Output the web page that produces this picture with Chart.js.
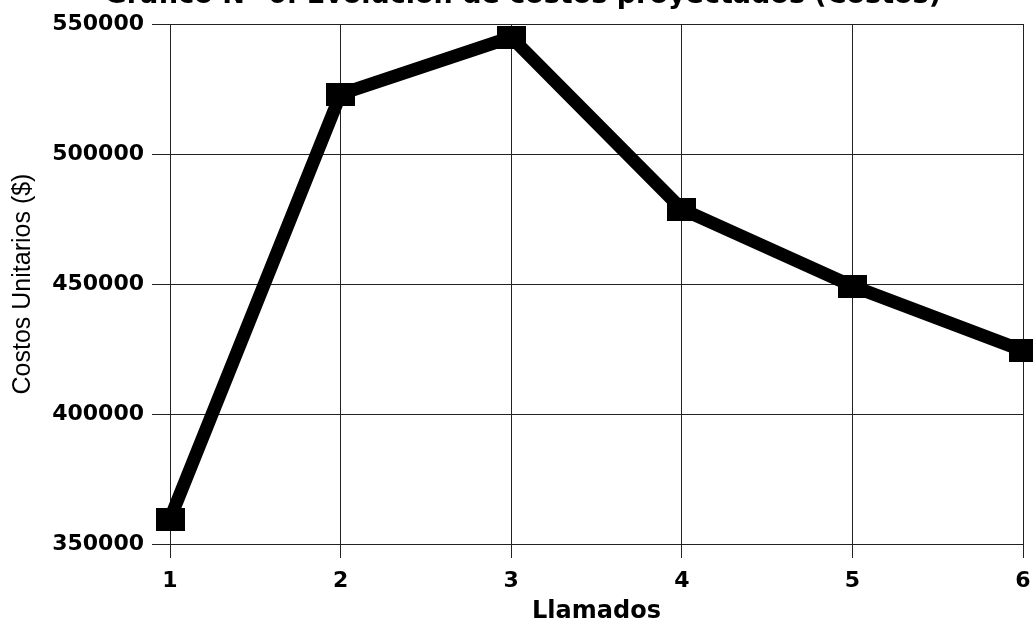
<!DOCTYPE html>
<html>
<head>
<meta charset="utf-8">
<script src="https://cdn.jsdelivr.net/npm/chart.js@4/dist/chart.umd.min.js"></script>
<style>
  html, body { margin: 0; padding: 0; background: #ffffff; }
  canvas { display: block; }
</style>
</head>
<body>
<canvas id="c" width="1033" height="624"></canvas>
<script>
// Costos unitarios por llamado
const llamados = ['1', '2', '3', '4', '5', '6'];
const costosUnitarios = [359600, 523000, 544900, 478800, 449200, 424400];
const yTicks = [350000, 400000, 450000, 500000, 550000];

const chartTitle = 'Gráfico N° 6: Evolución de costos proyectados (Costos)';
const xTitle = 'Llamados';
const yTitle = 'Costos Unitarios ($)';

// Rectangular black marker for each point
function makeMarker(w, h) {
  const m = document.createElement('canvas');
  m.width = w; m.height = h;
  const g = m.getContext('2d');
  g.fillStyle = '#000000';
  g.fillRect(0, 0, w, h);
  return m;
}
const marker = makeMarker(29, 23);

// Title drawn along the top edge of the canvas
const topTitle = {
  id: 'topTitle',
  afterDraw(chart) {
    const ctx = chart.ctx;
    ctx.save();
    ctx.font = 'bold 27px "DejaVu Sans"';
    ctx.fillStyle = '#000000';
    ctx.textAlign = 'right';
    ctx.textBaseline = 'alphabetic';
    ctx.fillText(chartTitle, 941, 3);
    ctx.restore();
  }
};

const gridColor = '#222222';

new Chart(document.getElementById('c'), {
  type: 'line',
  data: {
    labels: llamados,
    datasets: [{
      data: costosUnitarios,
      borderColor: '#000000',
      backgroundColor: '#000000',
      borderWidth: 13,
      borderJoinStyle: 'round',
      tension: 0,
      fill: false,
      pointStyle: marker,
      clip: false
    }]
  },
  options: {
    responsive: false,
    devicePixelRatio: 1,
    animation: false,
    layout: { autoPadding: false, padding: { top: 24, right: 10, left: 0, bottom: 0 } },
    plugins: {
      legend: { display: false },
      title: { display: false },
      tooltip: { enabled: false }
    },
    scales: {
      x: {
        type: 'category',
        offset: false,
        afterFit(scale) {
          scale.height = 80;
          scale.paddingLeft = 0;
          scale.paddingRight = 0;
        },
        grid: {
          color: gridColor,
          lineWidth: 1,
          drawTicks: true,
          tickLength: 14,
          tickColor: gridColor
        },
        border: { display: true, color: gridColor, width: 1 },
        ticks: {
          color: '#000000',
          font: { family: 'DejaVu Sans', size: 22, weight: 'bold' },
          padding: 10,
          maxRotation: 0,
          autoSkip: false
        },
        title: {
          display: true,
          text: xTitle,
          color: '#000000',
          font: { family: 'DejaVu Sans', size: 24, weight: 'bold' },
          padding: { top: 0, bottom: -2 }
        }
      },
      y: {
        type: 'linear',
        min: yTicks[0],
        max: yTicks[yTicks.length - 1],
        afterFit(scale) {
          scale.width = 170;
          scale.paddingTop = 0;
          scale.paddingBottom = 0;
        },
        afterBuildTicks(scale) {
          scale.ticks = yTicks.map(v => ({ value: v }));
        },
        grid: {
          color: gridColor,
          lineWidth: 1,
          drawTicks: true,
          tickLength: 18,
          tickColor: gridColor
        },
        border: { display: true, color: gridColor, width: 1 },
        ticks: {
          color: '#000000',
          font: { family: 'DejaVu Sans', size: 22, weight: 'bold' },
          padding: 8,
          callback: v => String(v)
        },
        title: {
          display: true,
          text: yTitle,
          color: '#000000',
          font: { family: 'Liberation Sans', size: 25, weight: 'normal' },
          padding: { top: 8, bottom: 0 }
        }
      }
    }
  },
  plugins: [topTitle]
});
</script>
</body>
</html>
